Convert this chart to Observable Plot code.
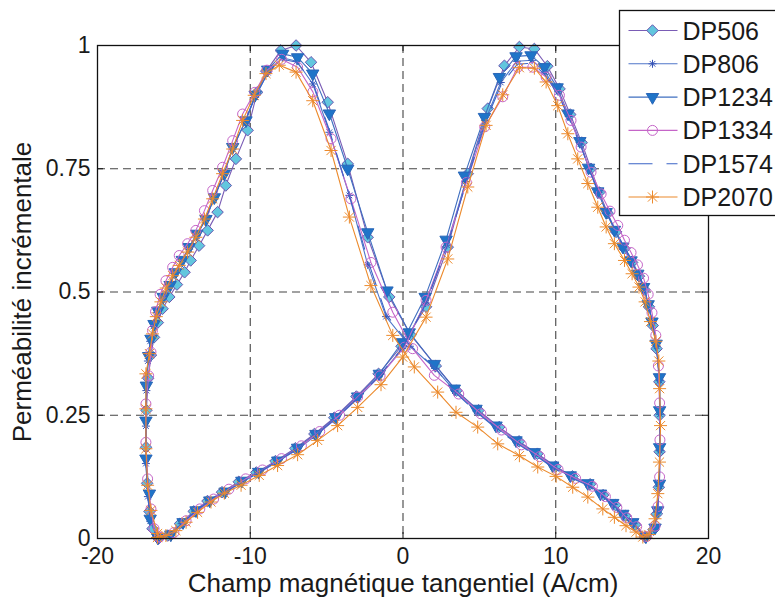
<!DOCTYPE html>
<html><head><meta charset="utf-8">
<script src="https://cdn.jsdelivr.net/npm/d3@7"></script>
<script src="https://cdn.jsdelivr.net/npm/@observablehq/plot@0.6"></script>
<style>
html,body{margin:0;padding:0;background:#fff;}
#wrap{position:relative;width:775px;height:597px;overflow:hidden;font-family:"Liberation Sans",Arial,sans-serif;}
#wrap svg{position:absolute;left:0;top:0;}
</style></head><body><div id="wrap"></div>
<script>
const xTicks = [-20, -10, 0, 10, 20];
const yTicks = [0, 0.25, 0.5, 0.75, 1];
const xGrid = [-10, 0, 10];
const yGrid = [0.25, 0.5, 0.75];
const xLabel = "Champ magnétique tangentiel (A/cm)";
const yLabel = "Perméabilité incrémentale";
const seriesNames = ["DP506", "DP806", "DP1234", "DP1334", "DP1574", "DP2070"];

const DP506 = [[-16.0,0.0],[-15.4,0.006],[-14.6,0.03],[-13.7,0.055],[-12.8,0.076],[-11.85,0.094],[-10.75,0.115],[-9.6,0.134],[-8.35,0.157],[-7.05,0.183],[-5.8,0.212],[-4.5,0.245],[-3.05,0.288],[-1.6,0.334],[-0.1,0.39],[1.51,0.47],[2.93,0.591],[4.24,0.74],[5.55,0.872],[6.64,0.959],[7.62,0.997],[8.6,0.993],[9.45,0.958],[10.25,0.912],[10.95,0.86],[11.7,0.803],[12.3,0.75],[12.85,0.702],[13.4,0.66],[13.95,0.622],[14.5,0.588],[15.0,0.56],[15.45,0.532],[15.8,0.505],[16.1,0.47],[16.35,0.432],[16.6,0.385],[16.78,0.318],[16.8,0.25],[16.8,0.176],[16.75,0.104],[16.62,0.05],[16.4,0.018],[15.85,0.003],
[15.2,0.028],[14.55,0.046],[13.9,0.068],[13.1,0.088],[12.25,0.11],[11.1,0.126],[10.0,0.146],[8.8,0.172],[7.6,0.197],[6.3,0.226],[4.95,0.26],[3.5,0.3],[2.15,0.35],[0.5,0.413],[-0.9,0.49],[-2.31,0.611],[-3.62,0.76],[-4.93,0.885],[-6.02,0.966],[-7.0,1.0],[-8.0,0.99],[-8.95,0.948],[-9.55,0.905],[-10.17,0.828],[-10.94,0.77],[-11.6,0.716],[-12.14,0.662],[-12.79,0.625],[-13.35,0.594],[-13.9,0.564],[-14.3,0.54],[-14.8,0.515],[-15.3,0.49],[-15.74,0.466],[-16.05,0.438],[-16.3,0.408],[-16.5,0.372],[-16.68,0.325],[-16.8,0.26],[-16.82,0.185],[-16.75,0.112],[-16.6,0.055],[-16.4,0.02],[-16.05,0.002]];

const DP806 = [[-16.1,0.002],[-15.3,0.007],[-14.5,0.03],[-13.6,0.055],[-12.7,0.074],[-11.7,0.092],[-10.6,0.113],[-9.5,0.132],[-8.25,0.155],[-6.95,0.18],[-5.75,0.208],[-4.45,0.241],[-3.0,0.283],[-1.58,0.328],[-0.05,0.385],[1.48,0.478],[2.87,0.595],[4.1,0.724],[5.38,0.848],[6.4,0.925],[7.45,0.968],[8.45,0.97],[9.3,0.946],[10.15,0.906],[10.85,0.856],[11.62,0.8],[12.2,0.749],[12.8,0.702],[13.35,0.66],[13.9,0.625],[14.45,0.592],[14.97,0.565],[15.4,0.538],[15.78,0.51],[16.08,0.474],[16.32,0.438],[16.6,0.39],[16.8,0.32],[16.82,0.252],[16.82,0.178],[16.78,0.106],[16.65,0.053],[16.45,0.02],[15.85,0.003],
[15.1,0.03],[14.45,0.047],[13.8,0.069],[13.0,0.088],[12.15,0.109],[11.0,0.125],[9.85,0.145],[8.65,0.171],[7.45,0.195],[6.15,0.224],[4.82,0.258],[3.4,0.299],[2.1,0.345],[0.45,0.39],[-1.11,0.45],[-2.31,0.555],[-3.51,0.696],[-4.82,0.824],[-5.9,0.922],[-6.95,0.968],[-7.9,0.975],[-8.85,0.945],[-9.68,0.895],[-10.35,0.845],[-11.15,0.79],[-11.75,0.737],[-12.4,0.688],[-12.95,0.646],[-13.5,0.614],[-14.0,0.587],[-14.5,0.562],[-14.95,0.537],[-15.3,0.512],[-15.75,0.486],[-16.1,0.458],[-16.35,0.43],[-16.55,0.4],[-16.7,0.36],[-16.8,0.3],[-16.83,0.228],[-16.83,0.152],[-16.7,0.085],[-16.55,0.035],[-16.1,0.002]];

const DP1234 = [[-16.05,0.002],[-15.2,0.008],[-14.4,0.033],[-13.55,0.057],[-12.65,0.077],[-11.65,0.095],[-10.55,0.117],[-9.45,0.135],[-8.2,0.158],[-6.9,0.184],[-5.7,0.212],[-4.4,0.246],[-2.97,0.288],[-1.55,0.334],[-0.05,0.398],[1.45,0.49],[2.82,0.606],[4.02,0.736],[5.33,0.855],[6.31,0.936],[7.4,0.978],[8.38,0.98],[9.26,0.956],[10.09,0.915],[10.8,0.862],[11.58,0.806],[12.15,0.752],[12.75,0.704],[13.3,0.662],[13.84,0.626],[14.39,0.592],[14.93,0.564],[15.37,0.537],[15.75,0.51],[16.05,0.475],[16.3,0.44],[16.57,0.395],[16.79,0.327],[16.8,0.26],[16.8,0.185],[16.79,0.111],[16.68,0.057],[16.5,0.022],[15.9,0.004],
[15.04,0.033],[14.39,0.05],[13.73,0.072],[12.93,0.091],[12.1,0.112],[10.95,0.128],[9.8,0.148],[8.6,0.175],[7.4,0.199],[6.09,0.229],[4.78,0.263],[3.36,0.304],[2.05,0.354],[0.41,0.418],[-1.05,0.503],[-2.31,0.621],[-3.62,0.75],[-4.82,0.862],[-5.91,0.943],[-6.9,0.976],[-7.88,0.983],[-8.86,0.951],[-9.68,0.9],[-10.28,0.848],[-11.15,0.794],[-11.7,0.74],[-12.35,0.692],[-12.9,0.648],[-13.5,0.618],[-14.0,0.591],[-14.45,0.565],[-14.9,0.54],[-15.25,0.514],[-15.7,0.49],[-16.05,0.462],[-16.3,0.435],[-16.5,0.405],[-16.65,0.37],[-16.8,0.31],[-16.83,0.239],[-16.83,0.162],[-16.6,0.091],[-16.55,0.04],[-16.05,0.003]];

const DP1334 = [[-15.95,0.003],[-15.0,0.012],[-14.2,0.036],[-13.3,0.06],[-12.4,0.08],[-11.4,0.1],[-10.3,0.121],[-9.2,0.139],[-7.95,0.162],[-6.65,0.188],[-5.45,0.217],[-4.15,0.25],[-2.97,0.287],[-1.5,0.33],[0.09,0.388],[1.51,0.483],[2.82,0.591],[4.15,0.722],[5.35,0.835],[6.53,0.896],[7.51,0.956],[8.5,0.956],[9.37,0.936],[10.24,0.899],[11.0,0.848],[11.66,0.794],[12.31,0.743],[12.97,0.699],[13.55,0.664],[14.06,0.635],[14.5,0.605],[14.93,0.58],[15.35,0.555],[15.75,0.528],[16.05,0.495],[16.3,0.458],[16.55,0.412],[16.72,0.35],[16.8,0.275],[16.82,0.2],[16.8,0.125],[16.7,0.065],[16.5,0.025],[15.95,0.004],
[15.3,0.024],[14.65,0.042],[14.0,0.063],[13.25,0.085],[12.4,0.106],[11.3,0.122],[10.15,0.14],[8.95,0.166],[7.75,0.19],[6.45,0.22],[5.1,0.253],[3.65,0.293],[2.05,0.331],[0.63,0.385],[-0.67,0.459],[-2.1,0.56],[-3.41,0.689],[-4.71,0.811],[-5.9,0.906],[-6.9,0.956],[-7.95,0.972],[-8.9,0.95],[-9.7,0.905],[-10.5,0.861],[-11.15,0.807],[-11.81,0.753],[-12.46,0.706],[-13.0,0.665],[-13.56,0.625],[-14.1,0.598],[-14.65,0.574],[-15.08,0.55],[-15.52,0.523],[-15.9,0.495],[-16.2,0.46],[-16.4,0.422],[-16.5,0.378],[-16.65,0.33],[-16.83,0.273],[-16.83,0.195],[-16.72,0.121],[-16.5,0.06],[-16.3,0.02],[-15.95,0.003]];

const DP1574 = [[-16.1,0.002],[-15.25,0.007],[-14.45,0.031],[-13.6,0.055],[-12.7,0.075],[-11.7,0.093],[-10.6,0.114],[-9.5,0.133],[-8.25,0.156],[-6.95,0.181],[-5.75,0.209],[-4.45,0.242],[-3.0,0.284],[-1.58,0.329],[-0.05,0.386],[1.48,0.475],[2.87,0.592],[4.12,0.72],[5.4,0.845],[6.42,0.92],[7.48,0.962],[8.48,0.964],[9.32,0.94],[10.15,0.902],[10.85,0.853],[11.62,0.798],[12.2,0.748],[12.8,0.701],[13.35,0.66],[13.9,0.625],[14.45,0.593],[14.97,0.566],[15.4,0.539],[15.78,0.51],[16.08,0.475],[16.32,0.438],[16.6,0.39],[16.8,0.32],[16.82,0.252],[16.82,0.178],[16.78,0.106],[16.65,0.053],[16.45,0.02],[15.85,0.003],
[15.1,0.029],[14.45,0.046],[13.8,0.067],[13.0,0.086],[12.15,0.107],[11.0,0.123],[9.85,0.143],[8.65,0.169],[7.45,0.193],[6.15,0.222],[4.82,0.256],[3.4,0.297],[2.1,0.346],[0.45,0.392],[-1.11,0.455],[-2.31,0.565],[-3.55,0.7],[-4.82,0.828],[-5.9,0.925],[-6.95,0.966],[-7.9,0.972],[-8.85,0.944],[-9.68,0.896],[-10.35,0.846],[-11.15,0.791],[-11.75,0.738],[-12.4,0.689],[-12.95,0.647],[-13.5,0.615],[-14.0,0.588],[-14.5,0.563],[-14.95,0.538],[-15.3,0.513],[-15.75,0.487],[-16.1,0.459],[-16.35,0.431],[-16.55,0.4],[-16.7,0.36],[-16.8,0.3],[-16.83,0.228],[-16.83,0.152],[-16.7,0.085],[-16.55,0.035],[-16.1,0.002]];

const DP2070 = [[-16.07,0.002],[-15.52,0.006],[-14.87,0.016],[-14.2,0.033],[-13.45,0.053],[-12.57,0.074],[-11.7,0.092],[-10.6,0.108],[-9.41,0.128],[-8.21,0.148],[-6.9,0.17],[-5.59,0.199],[-4.28,0.229],[-2.97,0.266],[-1.44,0.312],[-0.02,0.368],[1.51,0.449],[2.93,0.567],[4.24,0.713],[5.44,0.838],[6.53,0.9],[7.62,0.955],[8.6,0.954],[9.37,0.926],[10.13,0.878],[10.79,0.821],[11.44,0.77],[12.1,0.72],[12.75,0.672],[13.3,0.632],[13.84,0.598],[14.5,0.564],[15.0,0.537],[15.45,0.51],[15.85,0.48],[16.2,0.44],[16.55,0.4],[16.75,0.36],[16.8,0.304],[16.86,0.229],[16.79,0.155],[16.68,0.091],[16.5,0.04],[16.1,0.008],
[15.7,0.003],[15.26,0.013],[14.6,0.026],[13.84,0.043],[13.08,0.06],[12.1,0.084],[11.11,0.104],[10.02,0.126],[8.82,0.145],[7.62,0.168],[6.2,0.192],[4.89,0.226],[3.47,0.256],[2.27,0.297],[0.74,0.348],[-0.67,0.412],[-2.1,0.513],[-3.51,0.652],[-4.71,0.787],[-5.91,0.888],[-7.0,0.946],[-8.1,0.96],[-8.97,0.943],[-9.74,0.899],[-10.5,0.848],[-11.15,0.79],[-11.81,0.74],[-12.46,0.689],[-13.0,0.648],[-13.56,0.611],[-14.1,0.581],[-14.65,0.554],[-15.08,0.533],[-15.5,0.508],[-15.85,0.48],[-16.15,0.45],[-16.4,0.415],[-16.6,0.375],[-16.83,0.334],[-16.83,0.263],[-16.83,0.182],[-16.72,0.108],[-16.5,0.057],[-16.07,0.01]];

// 8-arm asterisk (MATLAB '*')
const asterisk = {
  draw(ctx, size) {
    const r = Math.sqrt(size / Math.PI);
    const d = r * Math.SQRT1_2;
    ctx.moveTo(-r, 0); ctx.lineTo(r, 0);
    ctx.moveTo(0, -r); ctx.lineTo(0, r);
    ctx.moveTo(-d, -d); ctx.lineTo(d, d);
    ctx.moveTo(-d, d); ctx.lineTo(d, -d);
  }
};

const styles = [
  {data: DP506,  line: "#7a5cb5", symbol: "diamond2", r: 5.2, fill: "#62c6de", mstroke: "#6a56b0", rotate: 0},
  {data: DP806,  line: "#4f76c9", symbol: asterisk, r: 4, fill: "none", mstroke: "#3552b5", rotate: 0},
  {data: DP1234, line: "#3f6fc0", symbol: "triangle", r: 4.6, fill: "#1f74c8", mstroke: "#2a66b8", rotate: 180},
  {data: DP1334, line: "#c565c8", symbol: "circle", r: 5, fill: "none", mstroke: "#c565c8", rotate: 0},
  {data: DP1574, line: "#3b64c6", symbol: null, dash: "24,14"},
  {data: DP2070, line: "#ec8a2c", symbol: asterisk, r: 6.5, fill: "none", mstroke: "#ec8a2c", rotate: 0}
];

const FH = 493; // frame height in px (for inward tick insets)
const FW = 611; // frame width in px
const marks = [
  Plot.gridX(xGrid, {stroke: "#444", strokeOpacity: 1, strokeWidth: 1.1, strokeDasharray: "8,5"}),
  Plot.gridY(yGrid, {stroke: "#444", strokeOpacity: 1, strokeWidth: 1.1, strokeDasharray: "8,5"}),
  // MATLAB-style inward ticks on all four sides
  Plot.tickX(xTicks, {x: d => d, insetTop: FH - 6, stroke: "#111"}),
  Plot.tickX(xTicks, {x: d => d, insetBottom: FH - 6, stroke: "#111"}),
  Plot.tickY(yTicks, {y: d => d, insetRight: FW - 6, stroke: "#111"}),
  Plot.tickY(yTicks, {y: d => d, insetLeft: FW - 6, stroke: "#111"})
];
styles.forEach(s => {
  marks.push(Plot.line(s.data, {x: d => d[0], y: d => d[1], stroke: s.line, strokeWidth: 1.1, strokeDasharray: s.dash || null}));
  if (s.symbol) marks.push(Plot.dot(s.data, {x: d => d[0], y: d => d[1], symbol: s.symbol, r: s.r, fill: s.fill, stroke: s.mstroke, strokeWidth: 1, rotate: s.rotate}));
});
marks.push(
  Plot.frame({stroke: "#111", strokeWidth: 1.3}),
  Plot.axisX(xTicks, {anchor: "bottom", tickSize: 0, tickPadding: 9, tickFormat: d => String(d), fontSize: 23, label: null}),
  Plot.axisY(yTicks, {anchor: "left", tickSize: 0, tickPadding: 7, tickFormat: d => String(d), fontSize: 23, label: null}),
  Plot.text([xLabel], {frameAnchor: "bottom", dy: 53, text: d => d, fontSize: 26, fill: "#1a1a1a", textAnchor: "middle"}),
  Plot.text([yLabel], {frameAnchor: "left", dx: -75, rotate: -90, text: d => d, fontSize: 26, fill: "#1a1a1a", textAnchor: "middle"})
);

const chart = Plot.plot({
  width: 775, height: 597,
  marginLeft: 97, marginRight: 67, marginTop: 45, marginBottom: 59,
  x: {domain: [-20, 20], axis: null},
  y: {domain: [0, 1], axis: null},
  style: {fontFamily: "'Liberation Sans', Arial, sans-serif", color: "#1a1a1a", background: "#fff", overflow: "visible"},
  marks
});
document.getElementById("wrap").appendChild(chart);

// Legend overlay (top-right, overlapping the frame as in the original)
const lg = d3.select("#wrap").append("svg").attr("width", 775).attr("height", 597).style("pointer-events", "none");
const lx = 619.5, ly = 10.5;
lg.append("rect").attr("x", lx).attr("y", ly).attr("width", 200).attr("height", 205)
  .attr("fill", "#fff").attr("stroke", "#111").attr("stroke-width", 1.3);
const symMap = {diamond2: d3.symbolDiamond2, triangle: d3.symbolTriangle, circle: d3.symbolCircle};
styles.forEach((s, i) => {
  const cy = ly + 20 + i * 33.3;
  lg.append("line").attr("x1", lx + 9).attr("x2", lx + 58).attr("y1", cy).attr("y2", cy)
    .attr("stroke", s.line).attr("stroke-width", 1.1).attr("stroke-dasharray", s.dash || null);
  if (s.symbol) {
    const type = typeof s.symbol === "string" ? symMap[s.symbol] : s.symbol;
    lg.append("path").attr("d", d3.symbol(type, Math.PI * s.r * s.r)())
      .attr("transform", `translate(${lx + 33},${cy}) rotate(${s.rotate})`)
      .attr("fill", s.fill).attr("stroke", s.mstroke).attr("stroke-width", 1);
  }
  lg.append("text").attr("x", lx + 63).attr("y", cy).attr("dy", "0.36em")
    .attr("font-size", 25).attr("fill", "#1a1a1a")
    .attr("font-family", "'Liberation Sans', Arial, sans-serif").text(seriesNames[i]);
});
</script>
</body></html>
